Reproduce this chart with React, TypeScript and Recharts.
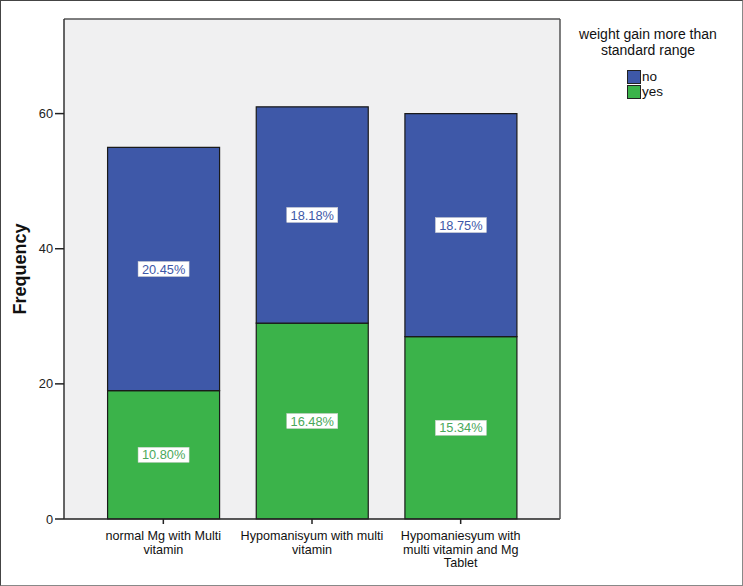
import { BarChart, Bar, XAxis, YAxis, CartesianGrid, LabelList } from 'recharts';

const categories = [
    'normal Mg with Multi\nvitamin',
    'Hypomanisyum with multi\nvitamin',
    'Hypomaniesyum with\nmulti vitamin and Mg\nTablet',
];
const yesCounts = [19, 29, 27];
const noCounts = [36, 32, 33];
const yesLabels = ['10.80%', '16.48%', '15.34%'];
const noLabels = ['20.45%', '18.18%', '18.75%'];
const yTicks = [0, 20, 40, 60];
const legendItems = ['no', 'yes'];

const BLUE = '#3e58a8';
const GREEN = '#3bb34a';
const FONT = '"Liberation Sans", Arial, sans-serif';
const legendColors: Record<string, string> = { no: BLUE, yes: GREEN };

const chartData = categories.map((name, i) => ({
    name,
    yes: yesCounts[i],
    no: noCounts[i],
    yesLabel: yesLabels[i],
    noLabel: noLabels[i],
}));

// white box with coloured text, centred in the segment (SPSS style)
const boxLabel = (color: string) => (props: any) => {
    const { x, y, width, height, value } = props;
    const cx = Number(x) + Number(width) / 2;
    const cy = Number(y) + Number(height) / 2;
    const w = 51;
    const h = 15;
    return (
        <g>
            <rect x={cx - w / 2} y={cy - h / 2} width={w} height={h} fill="#fff" stroke="#cfcfcf" strokeWidth={0.5} />
            <text x={cx} y={cy} dy="0.36em" textAnchor="middle" fontSize={12.8} fill={color} fontFamily={FONT}>
                {value}
            </text>
        </g>
    );
};

const CategoryTick = (props: any) => {
    const { x, y, payload } = props;
    const lines = String(payload.value).split('\n');
    return (
        <g transform={`translate(${x},${y})`}>
            <text textAnchor="middle" fontSize={12.6} fill="#111" fontFamily={FONT}>
                {lines.map((line, i) => (
                    <tspan key={i} x={0} dy={i === 0 ? 14 : 13.5}>{line}</tspan>
                ))}
            </text>
        </g>
    );
};

const FrequencyLabel = (props: any) => {
    const vb = props.viewBox || {};
    const cy = vb.y + vb.height / 2;
    return (
        <text x={26} y={cy} transform={`rotate(-90, 26, ${cy})`} textAnchor="middle"
            fontSize={18} fontWeight="bold" fill="#111" fontFamily={FONT}>
            Frequency
        </text>
    );
};

export default function App() {
    return (
        <div style={{ position: 'fixed', left: 0, top: 0, width: 743, height: 586, background: '#fff' }}>
            <BarChart
                width={743}
                height={586}
                data={chartData}
                margin={{ top: 18, right: 182, bottom: 7, left: 24 }}
                barCategoryGap="12.5%"
            >
                <CartesianGrid horizontal={false} vertical={false} fill="#f0f0f1" />
                <XAxis
                    dataKey="name"
                    height={60}
                    padding={{ left: 25, right: 25 }}
                    tick={<CategoryTick />}
                    tickSize={5}
                    tickLine={{ stroke: '#222', strokeWidth: 1.5 }}
                    axisLine={{ stroke: '#222', strokeWidth: 1.5 }}
                    interval={0}
                />
                <XAxis xAxisId="top" dataKey="name" orientation="top" height={1} tick={false} tickLine={false}
                    axisLine={{ stroke: '#555', strokeWidth: 1.5 }} />
                <YAxis
                    width={40}
                    domain={[0, 74]}
                    ticks={yTicks}
                    tickSize={9}
                    tickMargin={2}
                    tick={{ fontSize: 12.8, fill: '#222', fontFamily: FONT }}
                    tickLine={{ stroke: '#222', strokeWidth: 1.5 }}
                    axisLine={{ stroke: '#333', strokeWidth: 1.5 }}
                    label={<FrequencyLabel />}
                />
                <YAxis yAxisId="right" orientation="right" width={1} tick={false} tickLine={false}
                    axisLine={{ stroke: '#555', strokeWidth: 1.5 }} />
                <Bar dataKey="yes" stackId="a" fill={GREEN} stroke="#1a1a1a" strokeWidth={1.2} isAnimationActive={false}>
                    <LabelList dataKey="yesLabel" content={boxLabel('#4aa85a')} />
                </Bar>
                <Bar dataKey="no" stackId="a" fill={BLUE} stroke="#1a1a1a" strokeWidth={1.2} isAnimationActive={false}>
                    <LabelList dataKey="noLabel" content={boxLabel(BLUE)} />
                </Bar>
            </BarChart>
            {/* legend, placed like the SPSS one on the right */}
            <div style={{ position: 'absolute', left: 563, top: 26, width: 170, fontFamily: FONT, color: '#111', textAlign: 'center' }}>
                <div style={{ fontSize: 14, lineHeight: '16px' }}>weight gain more than<br />standard range</div>
                <div style={{ display: 'inline-block', textAlign: 'left', marginTop: 11, marginLeft: -6 }}>
                    {legendItems.map((label) => (
                        <div key={label} style={{ display: 'flex', alignItems: 'center', height: 15, fontSize: 13.5 }}>
                            <span style={{ width: 12, height: 12, background: legendColors[label], border: '1px solid #222', marginRight: 1 }} />
                            {label}
                        </div>
                    ))}
                </div>
            </div>
            <div style={{ position: 'absolute', left: 0, top: 0, width: 743, height: 586, boxSizing: 'border-box',
                border: '1.5px solid #444', borderRightColor: '#888', borderBottomColor: '#888', pointerEvents: 'none' }} />
        </div>
    );
}
